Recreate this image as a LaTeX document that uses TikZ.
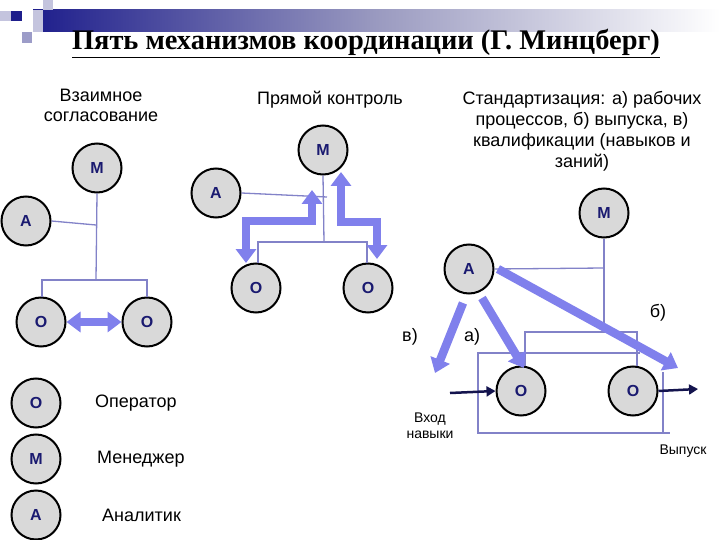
\documentclass[tikz,border=0pt]{standalone}
\usepackage{fontspec}
\setmainfont{Liberation Sans}
\newfontfamily\titlefont{Liberation Serif}
\usetikzlibrary{arrows.meta,calc}
\definecolor{circfill}{HTML}{D9D9D9}
\definecolor{letter}{HTML}{1A1A70}
\definecolor{thinline}{HTML}{8282C8}
\definecolor{thickarr}{HTML}{8080EC}
\definecolor{navyline}{HTML}{14144E}
\definecolor{bardark}{HTML}{1E1E8C}
\definecolor{barmid}{HTML}{9A9AC0}
\definecolor{lav}{HTML}{C4C4DE}
\definecolor{lavdark}{HTML}{9C9CC8}
\tikzset{
  role/.style={circle,draw=black,line width=2pt,fill=circfill,minimum size=49pt,inner sep=0pt,
    font=\fontsize{16}{16}\selectfont\bfseries,text=letter},
  thin/.style={draw=thinline,line width=1.3pt},
  thickarrow/.style={draw=thickarr,line width=8.5pt,-{Triangle[width=20pt,length=14pt]},line join=miter},
  dblarrow/.style={draw=thickarr,line width=8.5pt,{Triangle[width=20pt,length=14pt]}-{Triangle[width=20pt,length=14pt]},line join=miter},
  flow/.style={draw=navyline,line width=2.5pt,-{Triangle[width=10pt,length=9pt]}},
  lbl/.style={font=\fontsize{18}{21}\selectfont,text=black,inner sep=0pt},
  small/.style={font=\fontsize{14}{16}\selectfont,text=black,inner sep=0pt,align=center}
}
\begin{document}
\begin{tikzpicture}[x=1pt,y=-1pt]
\useasboundingbox (0,0) rectangle (720,540);
\fill[white] (0,0) rectangle (720,540);
% top decoration
\shade[left color=bardark,right color=white,middle color=barmid] (33,10) rectangle (720,32);
\fill[lav] (33,10) rectangle (43,32);
\fill[bardark] (11,11) rectangle (22,21);
\fill[lav] (43,0) rectangle (53,10);
\fill[lav] (0,11) rectangle (11,21);
\fill[lavdark] (22,32) rectangle (32,43);
% title
\node[anchor=base,font=\titlefont\fontsize{28.4}{28}\selectfont\bfseries,inner sep=0pt] (title) at (366,50) {\underline{Пять механизмов координации (Г. Минцберг)}};

% ---------- Mutual adjustment ----------
\node[lbl,align=center,font=\fontsize{18}{20}\selectfont] (t1) at (101,105) {Взаимное\\согласование};
\node[role] (M1) at (97,168) {M};
\node[role] (A1) at (26,221) {A};
\node[role] (O1a) at (41,322) {O};
\node[role] (O1b) at (147,322) {O};
\coordinate (j1) at (96,225);
\coordinate (j1b) at (96,280);
\coordinate (j1l) at (42,280);
\coordinate (j1r) at (147,280);
\draw[thin] (M1.south) -- (j1b);
\draw[thin] (A1.east) -- (j1);
\draw[thin] (O1a.north -| j1l) -- (j1l) -- (j1r) -- (O1b.north -| j1r);
\draw[dblarrow] (O1a.east) -- (O1b.west);

% ---------- Direct supervision ----------
\node[lbl] (t2) at (330,100) {Прямой контроль};
\node[role] (M2) at (323,150) {M};
\node[role] (A2) at (216,193) {A};
\node[role] (O2a) at (256,288) {O};
\node[role] (O2b) at (368,288) {O};
\coordinate (j2) at (327,197);
\coordinate (j2b) at (324,242);
\coordinate (j2l) at (258,242);
\coordinate (j2r) at (367,242);
\draw[thin] (A2.east) -- (j2);
\draw[thin] (M2.south) -- (j2b);
\draw[thin] (O2a.north -| j2l) -- (j2l) -- (j2r) -- (O2b.north -| j2r);
\coordinate (p1a) at (312,190);
\coordinate (p1b) at (312,221);
\coordinate (p1c) at (246,221);
\coordinate (p1d) at (246,263);
\draw[dblarrow] (p1a) -- (p1b) -- (p1c) -- (p1d);
\coordinate (p2a) at (341,172);
\coordinate (p2b) at (341,222);
\coordinate (p2c) at (377,222);
\coordinate (p2d) at (377,259);
\draw[dblarrow] (p2a) -- (p2b) -- (p2c) -- (p2d);

% ---------- Standardization ----------
\node[lbl,align=center,font=\fontsize{18}{21}\selectfont] (t3) at (582,131) {Стандартизация: а) рабочих\\процессов, б) выпуска, в)\\квалификации (навыков и\\заний)};
\node[role] (M3) at (604,213) {M};
\node[role] (A3) at (469,269) {A};
\node[role] (O3a) at (521,391) {O};
\node[role] (O3b) at (633,391) {O};
\coordinate (j3) at (604,268);
\coordinate (j3b) at (604,332);
\coordinate (j3l) at (525,332);
\coordinate (j3r) at (637,332);
\draw[thin] (M3.south) -- (j3b);
\draw[thin] (A3.east) -- (j3);
\draw[thin] (j3l |- O3a.north) -- (j3l) -- (j3r) -- (j3r |- O3b.north);
\coordinate (r1) at (478,353);
\coordinate (r2) at (640,353);
\coordinate (r3) at (478,433);
\coordinate (r4) at (670,433);
\coordinate (r5) at (663,372);
\coordinate (r6) at (663,433);
\draw[thin] (r2) -- (r1) -- (r3) -- (r4);
\draw[thin] (r5) -- (r6);
\coordinate (tv) at (435,373);
\coordinate (ta) at (524,368);
\coordinate (tb) at (678,368);
\draw[thickarrow] ($(A3.center)+(-6,34)$) -- (tv);
\draw[thickarrow] ($(A3.center)+(13,29)$) -- (ta);
\draw[thickarrow] ($(A3.center)+(29,0)$) -- (tb);
\node[lbl] (lv) at (410,337) {в)};
\node[lbl] (la) at (472,337) {а)};
\node[lbl] (lb) at (658,313) {б)};
\coordinate (inp) at (450,393);
\coordinate (outp) at (698,389);
\draw[flow] (inp) -- (O3a.west);
\draw[flow] (O3b.east) -- (outp);
\node[small] (vh) at (430,426) {Вход\\навыки};
\node[small] (vy) at (683,451) {Выпуск};

% ---------- Legend ----------
\node[role] (OL) at (36,403) {O};
\node[role] (ML) at (36,459) {M};
\node[role] (AL) at (36,515) {A};
\node[lbl,anchor=west] (tO) at (95,403) {Оператор};
\node[lbl,anchor=west] (tM) at (97,459) {Менеджер};
\node[lbl,anchor=west] (tA) at (102,515) {Аналитик};
\end{tikzpicture}
\end{document}
